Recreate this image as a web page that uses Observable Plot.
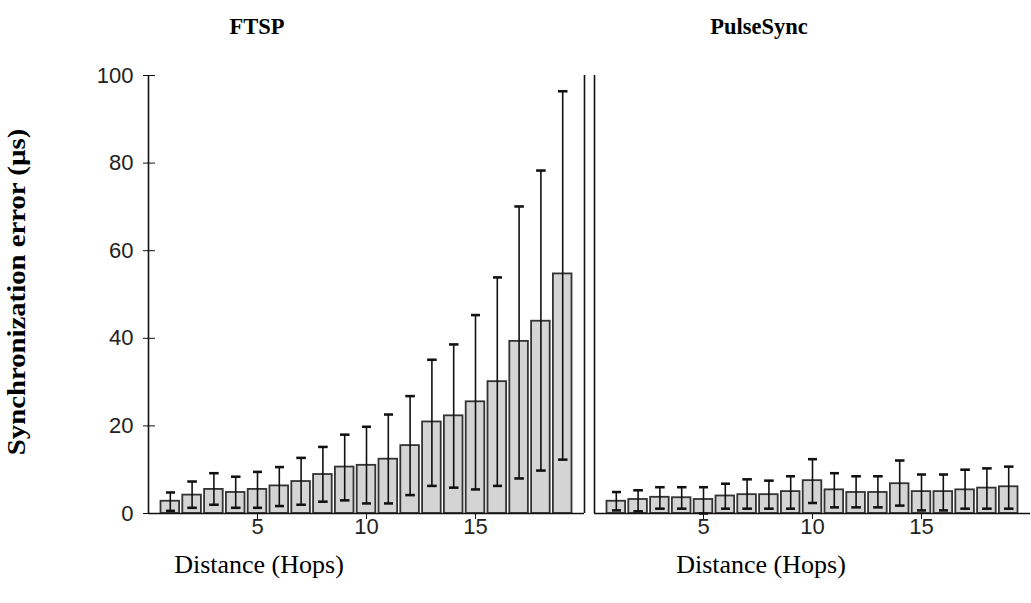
<!DOCTYPE html>
<html>
<head>
<meta charset="utf-8">
<script src="https://cdn.jsdelivr.net/npm/d3@7"></script>
<script src="https://cdn.jsdelivr.net/npm/@observablehq/plot@0.6"></script>
<style>
  html, body { margin: 0; padding: 0; background: #fff; }
  #wrap { position: relative; width: 1031px; height: 603px; overflow: hidden; }
  .lbl { position: absolute; font-family: "Liberation Serif", "Times New Roman", serif; color: #000; white-space: nowrap; }
  .title { font-weight: bold; font-size: 22.5px; transform: translate(-50%, -50%); }
  .xt { font-size: 26px; transform: translate(-50%, -50%); }
  .yt { font-weight: bold; font-size: 25px; transform: translate(-50%, -50%) rotate(-90deg) scaleX(1.15); }
  .panel { position: absolute; top: 0; }
</style>
</head>
<body>
<div id="wrap">
  <div class="lbl title" style="left:257px; top:27px;">FTSP</div>
  <div class="lbl title" style="left:759px; top:27px;">PulseSync</div>
  <div class="lbl yt" style="left:17px; top:292px;">Synchronization error (µs)</div>
  <div class="lbl xt" style="left:259px; top:565px;">Distance (Hops)</div>
  <div class="lbl xt" style="left:761px; top:565px;">Distance (Hops)</div>
  <div id="p1" class="panel" style="left:0px;"></div>
  <div id="p2" class="panel" style="left:584px;"></div>
</div>
<script>
// Distance in hops
const hops = [1,2,3,4,5,6,7,8,9,10,11,12,13,14,15,16,17,18,19];

// FTSP: mean synchronization error (µs) and error-bar bounds
const ftspMean = [2.8,4.2,5.5,4.8,5.5,6.3,7.3,8.9,10.6,11.0,12.4,15.5,20.9,22.3,25.5,30.1,39.3,43.9,54.7];
const ftspHigh = [4.8,7.3,9.2,8.4,9.5,10.6,12.7,15.2,18.0,19.8,22.6,26.8,35.1,38.6,45.3,53.9,70.1,78.3,96.4];
const ftspLow  = [0.6,1.3,2.0,1.3,1.3,1.7,2.0,2.7,3.0,2.3,2.3,4.2,6.3,5.9,5.5,6.3,8.0,9.8,12.3];

// PulseSync: mean synchronization error (µs) and error-bar bounds
const pulseMean = [2.8,3.2,3.7,3.6,3.2,4.0,4.3,4.3,5.0,7.5,5.4,4.8,4.8,6.8,5.0,5.0,5.4,5.8,6.1];
const pulseHigh = [4.9,5.3,6.0,6.0,6.0,6.8,7.8,7.5,8.5,12.4,9.2,8.5,8.5,12.1,8.9,8.9,10.0,10.3,10.7];
const pulseLow  = [0.7,0.5,1.1,1.1,0.0,1.1,1.1,1.1,1.1,2.4,1.4,1.4,1.4,1.8,0.7,0.7,1.1,1.1,1.1];

const yTicks = [0,20,40,60,80,100];
const xTicks = [5,10,15];

function rows(mean, lo, hi) {
  return hops.map((h, i) => ({hop: h, mean: mean[i], lo: lo[i], hi: hi[i]}));
}

const tickFont = {fontFamily: "'Liberation Sans', Arial, sans-serif", fontSize: 22, color: "#222"};

function panel(data, showY, width, marginLeft, marginRight) {
  const marks = [
    Plot.rectY(data, {
      x1: d => d.hop - 0.5, x2: d => d.hop + 0.5, y1: 0, y2: "mean",
      insetLeft: 1.6, insetRight: 1.6,
      fill: "#d4d4d4", stroke: "#333", strokeWidth: 1.8
    }),
    Plot.link(data, {
      x1: "hop", x2: "hop", y1: "lo", y2: "hi",
      stroke: "#111", strokeWidth: 1.6,
      markerStart: "tick", markerEnd: "tick"
    }),
    Plot.ruleY([0], {stroke: "#111", strokeWidth: 1.6}),
    Plot.ruleX([0], {stroke: "#111", strokeWidth: 1.6}),
    Plot.axisX({ticks: xTicks, tickSize: 6, tickPadding: -1, fontSize: 22, stroke: "#111"})
  ];
  if (showY) {
    marks.push(Plot.ruleX([20], {stroke: "#111", strokeWidth: 1.6}));
    marks.push(Plot.axisY({ticks: yTicks, tickSize: 5, tickPadding: 10, fontSize: 22, stroke: "#111"}));
    marks.push(Plot.axisY({ticks: yTicks, tickSize: 7, text: null, dx: 7, stroke: "#111"}));
  } else {
    marks.push(Plot.axisY({ticks: [], label: null}));
  }
  return Plot.plot({
    width, height: 560,
    marginLeft, marginRight, marginTop: 75, marginBottom: 47,
    style: {...tickFont, background: "transparent", overflow: "visible"},
    x: {domain: [0, 20], label: null},
    y: {domain: [0, 100], label: null},
    marks
  });
}

document.getElementById("p1").append(panel(rows(ftspMean, ftspLow, ftspHigh), true, 590, 148, 6));
document.getElementById("p2").append(panel(rows(pulseMean, pulseLow, pulseHigh), false, 447, 10, 1));
</script>
</body>
</html>
